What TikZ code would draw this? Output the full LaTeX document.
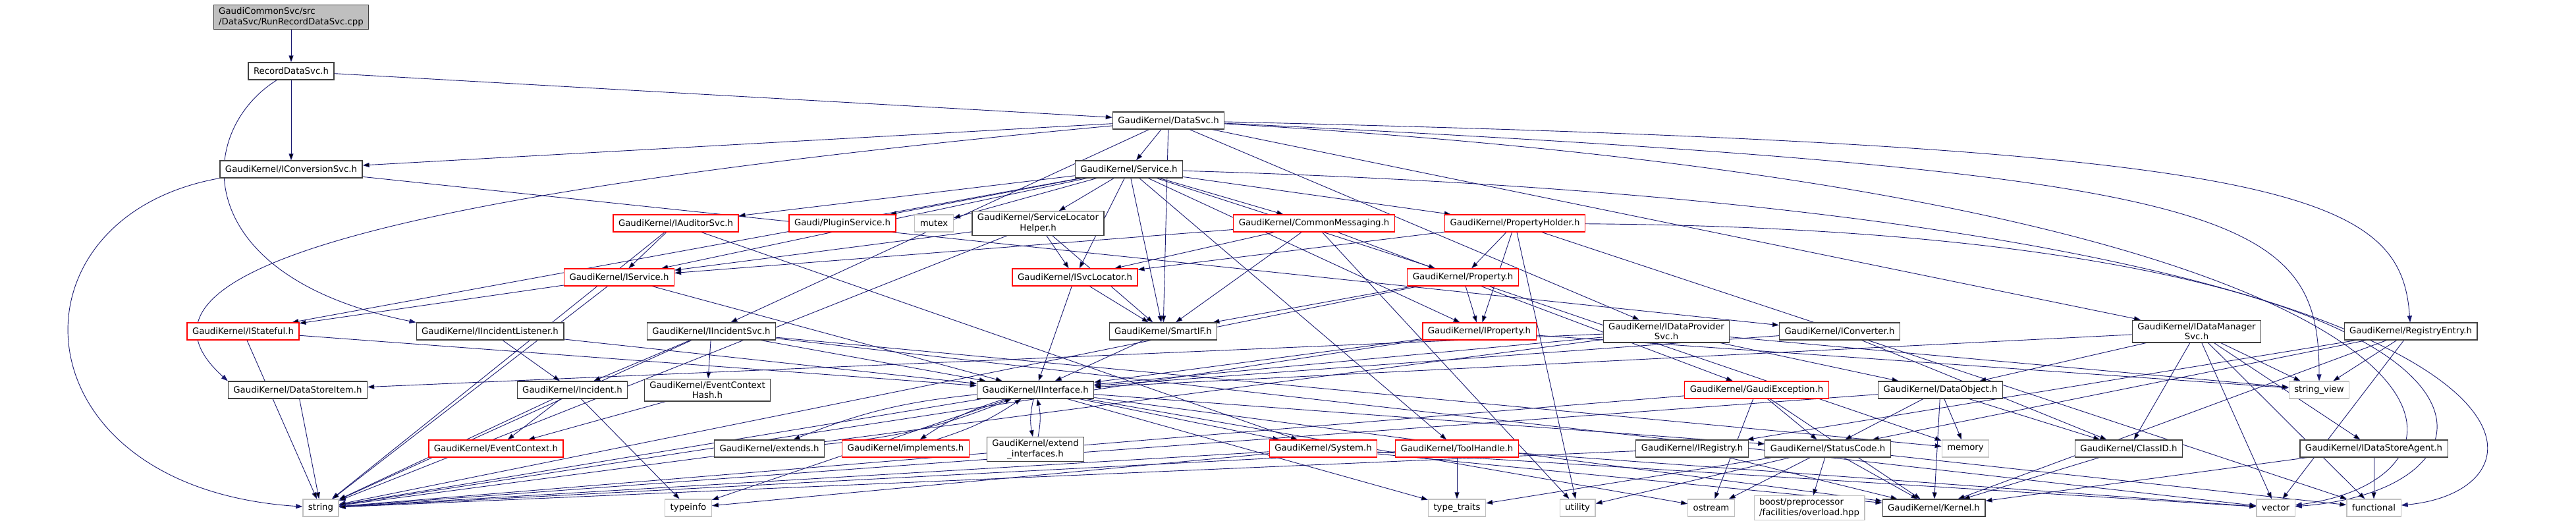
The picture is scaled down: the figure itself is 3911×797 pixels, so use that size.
\documentclass[tikz,border=0pt]{standalone}
\usepackage{fontspec}
\setmainfont{DejaVu Sans}
\usetikzlibrary{arrows.meta,backgrounds}

\definecolor{edgeblue}{HTML}{191970}
\definecolor{rootgray}{HTML}{BFBFBF}
\definecolor{boxblack}{HTML}{404040}
\definecolor{boxred}{HTML}{FF0000}
\definecolor{sysgray}{HTML}{C0C0C0}

\tikzset{
  hdr/.style={draw=boxblack, line width=1.2pt, fill=white, minimum height=26pt,
    inner xsep=8pt, inner ysep=4pt, align=center,
    font=\fontsize{13.3}{15.5}\selectfont},
  hdrred/.style={hdr, draw=boxred},
  syshdr/.style={hdr, draw=sysgray},
  rootfile/.style={hdr, fill=rootgray, align=left},
  dep/.style={draw=edgeblue, line width=0.9pt, -{Triangle[length=10pt,width=7pt]}},
}

\begin{document}
\begin{tikzpicture}[x=1pt, y=-1pt]
\useasboundingbox (0,0) rectangle (3911,797);

%%%%%%%%%%%%%%%%% top
\node[rootfile] (root) at (442,26) {GaudiCommonSvc/src\\/DataSvc/RunRecordDataSvc.cpp};
\node[hdr] (rds) at (442,108) {RecordDataSvc.h};
\node[hdr] (dsvc) at (1774,183) {GaudiKernel/DataSvc.h};
\node[hdr] (iconv) at (442,257) {GaudiKernel/IConversionSvc.h};
\node[hdr] (svc) at (1714,257) {GaudiKernel/Service.h};

%%%%%%%%%%%%%%%%% row 4
\node[hdrred] (iaud) at (1026,339) {GaudiKernel/IAuditorSvc.h};
\node[hdrred] (plug) at (1279,339) {Gaudi/PluginService.h};
\node[syshdr] (mutex) at (1418,339) {mutex};
\node[hdr] (slh) at (1576,339) {GaudiKernel/ServiceLocator\\Helper.h};
\node[hdrred] (cmsg) at (1995,339) {GaudiKernel/CommonMessaging.h};
\node[hdrred] (ph) at (2300,339) {GaudiKernel/PropertyHolder.h};

%%%%%%%%%%%%%%%%% row 5
\node[hdrred] (isvc) at (940,421) {GaudiKernel/IService.h};
\node[hdrred] (isl) at (1632,421) {GaudiKernel/ISvcLocator.h};
\node[hdrred] (prop) at (2221,421) {GaudiKernel/Property.h};

%%%%%%%%%%%%%%%%% row 6
\node[hdrred] (istf) at (369,503) {GaudiKernel/IStateful.h};
\node[hdr] (iil) at (744,503) {GaudiKernel/IIncidentListener.h};
\node[hdr] (iis) at (1080,503) {GaudiKernel/IIncidentSvc.h};
\node[hdr] (sif) at (1766,503) {GaudiKernel/SmartIF.h};
\node[hdrred] (iprop) at (2246,503) {GaudiKernel/IProperty.h};
\node[hdr] (idps) at (2530,503) {GaudiKernel/IDataProvider\\Svc.h};
\node[hdr] (icnv) at (2793,503) {GaudiKernel/IConverter.h};
\node[hdr] (idms) at (3335,503) {GaudiKernel/IDataManager\\Svc.h};
\node[hdr] (reg) at (3660,503) {GaudiKernel/RegistryEntry.h};

%%%%%%%%%%%%%%%%% row 7
\node[hdr] (dsi) at (452,592) {GaudiKernel/DataStoreItem.h};
\node[hdr] (inc) at (869,592) {GaudiKernel/Incident.h};
\node[hdr] (ech) at (1074,592) {GaudiKernel/EventContext\\Hash.h};
\node[hdr] (iif) at (1572,592) {GaudiKernel/IInterface.h};
\node[hdrred] (gex) at (2667,592) {GaudiKernel/GaudiException.h};
\node[hdr] (dobj) at (2946,592) {GaudiKernel/DataObject.h};
\node[syshdr] (sv) at (3521,592) {string\_view};

%%%%%%%%%%%%%%%%% row 8
\node[hdrred] (ectx) at (753,681) {GaudiKernel/EventContext.h};
\node[hdr] (ext) at (1168,681) {GaudiKernel/extends.h};
\node[hdrred] (impl) at (1375,681) {GaudiKernel/implements.h};
\node[hdr] (exti) at (1572,682) {GaudiKernel/extend\\\_interfaces.h};
\node[hdrred] (sys) at (2009,681) {GaudiKernel/System.h};
\node[hdrred] (tool) at (2212,681) {GaudiKernel/ToolHandle.h};
\node[hdr] (ireg) at (2569,681) {GaudiKernel/IRegistry.h};
\node[hdr] (sc) at (2775,681) {GaudiKernel/StatusCode.h};
\node[syshdr] (mem) at (2984,681) {memory};
\node[hdr] (cid) at (3232,681) {GaudiKernel/ClassID.h};
\node[hdr] (idsa) at (3604,681) {GaudiKernel/IDataStoreAgent.h};

%%%%%%%%%%%%%%%%% bottom
\node[syshdr] (str) at (487,771) {string};
\node[syshdr] (tinfo) at (1045,771) {typeinfo};
\node[syshdr] (tt) at (2212,771) {type\_traits};
\node[syshdr] (util) at (2395,771) {utility};
\node[syshdr] (ostr) at (2598,771) {ostream};
\node[syshdr, align=left] (boost) at (2747,771) {boost/preprocessor\\/facilities/overload.hpp};
\node[hdr] (kern) at (2936,771) {GaudiKernel/Kernel.h};
\node[syshdr] (vec) at (3455,771) {vector};
\node[syshdr] (func) at (3604,771) {functional};

%%%%%%%%%%%%%%%%% includes
\begin{scope}[on background layer]
\draw[dep] (root) edge (rds);
\draw[dep] (rds) edge (dsvc) edge (iconv);
\draw[dep] (rds) .. controls (295,200) and (285,420) .. (iil.north west);
\draw[dep] (dsvc) edge (iconv) edge (svc) edge (iis) edge (sif) edge (idps) edge (idms);
\draw[dep] (dsvc) .. controls (520,300) and (170,420) .. (dsi.north west);
\draw[dep] (dsvc) .. controls (3480,222) and (3645,290) .. (reg);
\draw[dep] (dsvc) .. controls (3400,262) and (3521,320) .. (sv);
\draw[dep] (dsvc) .. controls (3790,300) and (3830,720) .. (vec);
\draw[dep] (iconv) edge (icnv);
\draw[dep] (iconv.south west) .. controls (0,330) and (20,740) .. (str);
\draw[dep] (svc) edge (isvc) edge (iaud) edge (plug) edge (mutex) edge (slh)
  edge (cmsg) edge (ph) edge (isl) edge (sif) edge (prop) edge (iprop)
  edge (istf) edge (tool);
\draw[dep] (svc) .. controls (3900,320) and (3930,740) .. (func);
\draw[dep] (iaud) edge (isvc) edge (str) edge (sys);
\draw[dep] (slh) edge (isvc) edge (isl) edge (sif) edge (str);
\draw[dep] (cmsg) edge (isvc) edge (isl) edge (sif) edge (gex) edge (util);
\draw[dep] (ph) edge (prop) edge (iprop) edge (isl) edge (util) edge (func);
\draw[dep] (ph) .. controls (3850,350) and (3870,740) .. (vec);
\draw[dep] (isvc) edge (istf) edge (iif) edge (str);
\draw[dep] (isl) edge (sif) edge (iif);
\draw[dep] (prop) edge (iprop) edge (sif) edge (str) edge (mem);
\draw[dep] (istf) edge (iif) edge (str);
\draw[dep] (iil) edge (iif) edge (inc);
\draw[dep] (iis) edge (iif) edge (inc) edge (ech) edge (str) edge (mem) edge (vec);
\draw[dep] (sif) edge (iif);
\draw[dep] (iprop) edge (iif) edge (str) edge (sv);
\draw[dep] (idps) edge (iif) edge (dsi) edge (dobj) edge (str) edge (sv);
\draw[dep] (icnv) edge (iif) edge (cid);
\draw[dep] (idms) edge (iif) edge (dobj) edge (cid) edge (idsa) edge (sv)
  edge (vec) edge (func);
\draw[dep] (reg) edge (ireg) edge (sv) edge (sc) edge (kern) edge (vec);
\draw[dep] (dsi) edge (str);
\draw[dep] (inc) edge (ectx) edge (str) edge (tinfo);
\draw[dep] (ech) edge (ectx);
\draw[dep] (iif) edge (kern) edge (sc) edge (sys) edge (tinfo) edge (tt)
  edge (ostr) edge (str)
  edge[bend right=8] (ext) edge[bend right=8] (impl) edge[bend right=12] (exti);
\draw[dep] (ext) edge[bend right=8] (iif);
\draw[dep] (impl) edge[bend right=8] (iif);
\draw[dep] (exti) edge[bend right=12] (iif);
\draw[dep] (gex) edge (sc) edge (kern) edge (str) edge (ostr);
\draw[dep] (dobj) edge (cid) edge (sc) edge (mem) edge (kern) edge (str);
\draw[dep] (sys) edge (kern) edge (tinfo) edge (str) edge (vec);
\draw[dep] (tool) edge (tt) edge (str) edge (vec);
\draw[dep] (ireg) edge (str) edge (kern);
\draw[dep] (sc) edge (boost) edge (kern) edge (ostr) edge (util) edge (tt) edge (func);
\draw[dep] (cid) edge (kern);
\draw[dep] (idsa) edge (kern) edge (func);
\end{scope}
\end{tikzpicture}
\end{document}
